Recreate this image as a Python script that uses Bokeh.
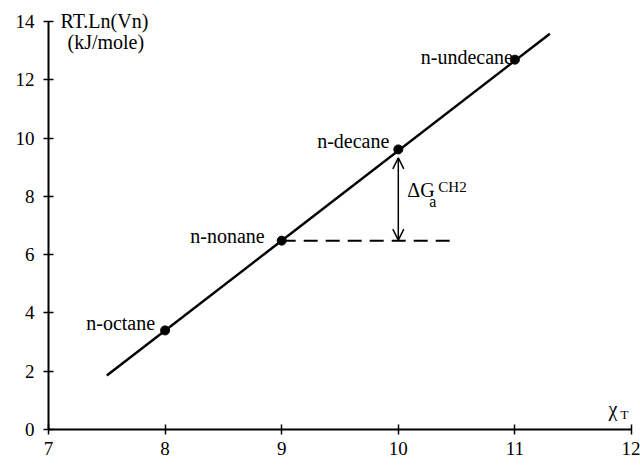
from bokeh.plotting import figure
from bokeh.models import Range1d, FixedTicker, Label, Arrow, OpenHead, ColumnDataSource
from bokeh.core.properties import value
from bokeh.embed import file_html
from bokeh.resources import INLINE

# ---- data ----
alkanes = ["n-octane", "n-nonane", "n-decane", "n-undecane"]
chi_t = [8, 9, 10, 11]
rt_ln_vn = [3.40, 6.48, 9.61, 12.69]

fit_x = [7.5, 11.3]
fit_y = [1.85, 13.58]

ref_x = [9, 10.5]          # dashed reference from n-nonane
ref_y = [6.48, 6.48]

arrow_x = 10
arrow_y = [6.50, 9.32]     # delta G arrow between nonane level and decane

x_ticks = [7, 8, 9, 10, 11, 12]
y_ticks = [0, 2, 4, 6, 8, 10, 12, 14]

# ---- styles ----
FONT = "Liberation Serif"
label_dx = [-10, -17, -9, -2]
label_dy = [-7, -5, -8, -3]

p = figure(width=640, height=465, output_backend="svg", toolbar_location=None,
           x_range=Range1d(7, 12), y_range=Range1d(0, 14.72),
           min_border_left=48, min_border_right=9,
           min_border_top=0, min_border_bottom=36)
p.outline_line_color = None
p.grid.visible = False
p.background_fill_color = "white"
p.border_fill_color = "white"

p.xaxis.ticker = FixedTicker(ticks=x_ticks)
p.yaxis.ticker = FixedTicker(ticks=y_ticks)
p.xaxis.bounds = (7, 12)
p.yaxis.bounds = (0, 14)
for ax in (p.xaxis, p.yaxis):
    ax.axis_line_width = 2
    ax.axis_line_color = "black"
    ax.major_tick_line_color = "black"
    ax.major_tick_line_width = 1.5
    ax.major_tick_in = 5
    ax.major_tick_out = 5
    ax.minor_tick_line_color = None
    ax.major_label_text_font = FONT
    ax.major_label_text_font_size = "19px"
    ax.major_label_text_color = "black"
p.xaxis.major_label_standoff = 7
p.yaxis.major_label_standoff = 9

# fit line
p.line(fit_x, fit_y, line_color="black", line_width=2.5)
# dashed reference
p.line(ref_x, ref_y, line_color="black", line_width=2, line_dash="14 8")
# data points
src = ColumnDataSource(dict(x=chi_t, y=rt_ln_vn, name=alkanes, dx=label_dx, dy=label_dy))
p.scatter("x", "y", source=src, size=9, fill_color="black", line_color="black")
p.text("x", "y", text="name", source=src, x_offset="dx", y_offset="dy",
       text_font=value(FONT), text_font_size=value("20px"), text_color="black",
       text_align="right", text_baseline="middle")

# arrow
p.add_layout(Arrow(start=OpenHead(size=11, line_width=1.5, line_color="black"),
                   end=OpenHead(size=11, line_width=1.5, line_color="black"),
                   x_start=arrow_x, y_start=arrow_y[0], x_end=arrow_x, y_end=arrow_y[1],
                   line_width=1.5, line_color="black"))

def lab(x, y, text, dx, dy, size, align="left", baseline="middle"):
    p.add_layout(Label(x=x, y=y, text=text, x_offset=dx, y_offset=dy,
                       text_font=FONT, text_font_size=size, text_color="black",
                       text_align=align, text_baseline=baseline))

# delta G label
lab(10, 8, "ΔG", 9, 6, "20px")
lab(10, 8, "a", 31, -5, "16px")
lab(10, 8, "CH2", 40, 9, "15px")

# axis titles
lab(7, 14, "RT.Ln(Vn)", 12, 0, "20px")
lab(7, 14, "(kJ/mole)", 19, -21, "20px")
lab(12, 0, "χ", -23, 21, "20px")
lab(12, 0, "T", -11, 15, "13px")

open("out.html", "w").write(file_html(p, INLINE))
